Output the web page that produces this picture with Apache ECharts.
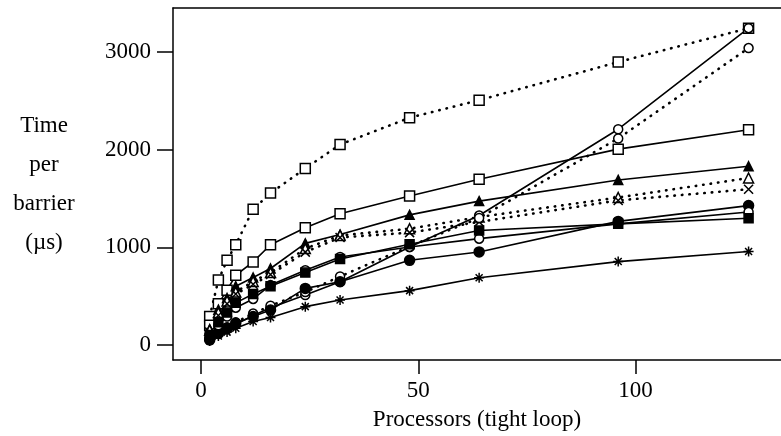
<!DOCTYPE html>
<html>
<head>
<meta charset="utf-8">
<script src="https://cdn.jsdelivr.net/npm/echarts@6/dist/echarts.min.js"></script>
<style>
  html, body { margin: 0; padding: 0; background: #fff; }
  #chart { width: 781px; height: 436px; }
</style>
</head>
<body>
<div id="chart"></div>
<script>
// processor counts along x
const procs = [2, 4, 6, 8, 12, 16, 24, 32, 48, 64, 96, 126]

// time per barrier (us), one array per curve
const dotSquare = [290, 663, 866, 1026, 1390, 1555, 1808, 2053, 2328, 2508, 2899, 3246]
const solidSquare = [200, 420, 560, 713, 850, 1026, 1200, 1343, 1526, 1697, 2006, 2205]
const solidTri = [160, 360, 480, 600, 690, 782, 1040, 1130, 1332, 1473, 1690, 1830]
const dotTri = [150, 330, 450, 540, 650, 740, 986, 1121, 1190, 1310, 1510, 1710]
const dotCross = [130, 300, 420, 520, 620, 720, 950, 1100, 1150, 1260, 1480, 1595]
const solidCircleLin = [60, 110, 160, 210, 300, 380, 510, 646, 1003, 1325, 2210, 3246]
const dotCircle = [70, 130, 180, 230, 320, 400, 540, 700, 1010, 1300, 2115, 3042]
const solidDot = [50, 120, 170, 220, 290, 357, 578, 646, 866, 952, 1265, 1427]
const solidCircle = [80, 200, 290, 380, 470, 612, 765, 900, 1003, 1088, 1240, 1362]
const solidBlock = [100, 230, 330, 430, 520, 600, 740, 880, 1030, 1172, 1240, 1297]
const solidStar = [40, 90, 130, 170, 238, 279, 391, 459, 555, 687, 853, 957]

const xTicks = [0, 50, 100]
const yTicks = [0, 1000, 2000, 3000]

const FONT = '"Liberation Serif", "DejaVu Serif", serif'
const CROSS = 'path://M0,0L10,10M10,0L0,10'
const STAR = 'path://M5,0L5,10M0,5L10,5M1.5,1.5L8.5,8.5M8.5,1.5L1.5,8.5'

let pts = (vals) => procs.map((p, i) => [p, vals[i]])

let mk = (vals, dotted, symbol, fill, size) => {
    return {
        type: 'line',
        data: pts(vals),
        symbol: symbol,
        symbolSize: size || 9,
        showAllSymbol: true,
        lineStyle: dotted
            ? {color: '#000', width: 2.6, type: [0.5, 7], cap: 'round'}
            : {color: '#000', width: 1.6},
        itemStyle: {color: fill, borderColor: '#000', borderWidth: 1.5},
        emphasis: {disabled: true}
    }
}

let chart = echarts.init(document.getElementById('chart'))

chart.setOption({
    animation: false,
    backgroundColor: '#fff',
    grid: {left: 173, top: 8, right: 0, bottom: 74},
    xAxis: [{
        type: 'value',
        min: -6.44,
        max: 133.46,
        name: 'Processors (tight loop)',
        nameLocation: 'middle',
        nameGap: 48,
        nameTextStyle: {fontFamily: FONT, fontSize: 23, color: '#000'},
        axisLine: {onZero: false, lineStyle: {color: '#000', width: 1.5}},
        axisTick: {length: 14, customValues: xTicks, lineStyle: {color: '#000', width: 1.5}},
        axisLabel: {customValues: xTicks, margin: 19, fontFamily: FONT, fontSize: 23, color: '#000', formatter: (v) => String(v)},
        splitLine: {show: false}
    }, {
        // top border of the box
        type: 'value',
        position: 'top',
        min: -6.44,
        max: 133.46,
        axisLine: {onZero: false, lineStyle: {color: '#000', width: 1.5}},
        axisTick: {show: false},
        axisLabel: {show: false},
        splitLine: {show: false}
    }],
    yAxis: {
        type: 'value',
        min: -156,
        max: 3453,
        name: 'Time\nper\nbarrier\n(\u00b5s)',
        nameLocation: 'middle',
        nameRotate: 0,
        nameGap: 129,
        nameTextStyle: {fontFamily: FONT, fontSize: 23, color: '#000', lineHeight: 39, align: 'center', verticalAlign: 'middle'},
        axisLine: {show: true, onZero: false, lineStyle: {color: '#000', width: 1.5}},
        axisTick: {show: true, length: 16, customValues: yTicks, lineStyle: {color: '#000', width: 1.5}},
        axisLabel: {customValues: yTicks, margin: 22, fontFamily: FONT, fontSize: 23, color: '#000', formatter: (v) => String(v)},
        splitLine: {show: false}
    },
    series: [
        mk(dotSquare, true, 'rect', '#fff', 10),
        mk(solidSquare, false, 'rect', '#fff', 10),
        mk(solidTri, false, 'triangle', '#000', 9),
        mk(dotTri, true, 'triangle', '#fff', 10),
        mk(dotCross, true, CROSS, 'none', 9),
        mk(solidCircleLin, false, 'circle', '#fff', 9),
        mk(dotCircle, true, 'circle', '#fff', 9),
        mk(solidDot, false, 'circle', '#000', 10),
        mk(solidCircle, false, 'circle', '#fff', 9),
        mk(solidBlock, false, 'rect', '#000', 9),
        mk(solidStar, false, STAR, 'none', 10)
    ]
})
</script>
</body>
</html>
